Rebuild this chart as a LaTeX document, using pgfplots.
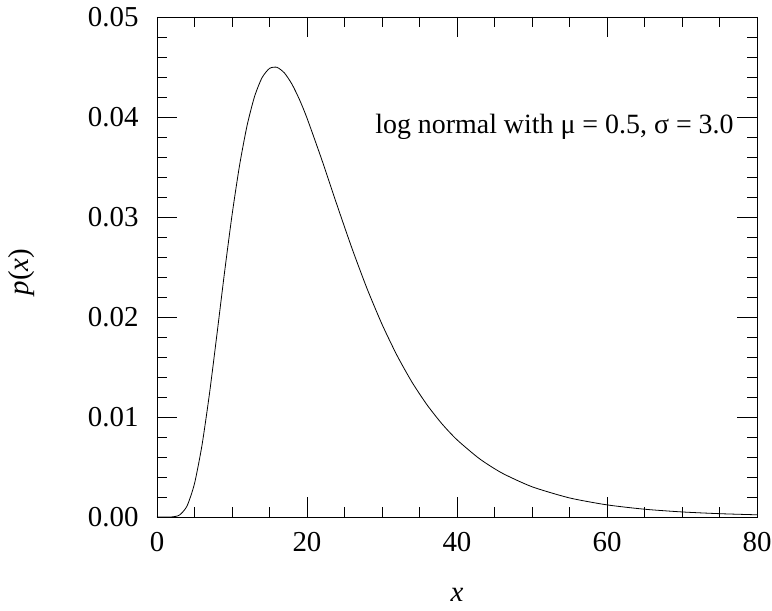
\documentclass[border=0pt]{standalone}
\usepackage{fontspec}
\setmainfont{Liberation Serif}
\usepackage{pgfplots}
\pgfplotsset{compat=1.18}

\begin{document}
\begin{tikzpicture}
\begin{axis}[
  name=ax,
  scale only axis=true,
  width=600bp, height=500bp,
  xmin=0, xmax=80, ymin=0, ymax=0.05,
  xtick={0,20,40,60,80},
  ytick={0,0.01,0.02,0.03,0.04,0.05},
  minor x tick num=3,
  minor y tick num=4,
  tick align=inside,
  major tick length=20bp,
  minor tick length=10bp,
  tick style={black, line width=0.8pt},
  axis line style={line width=0.8pt},
  tick label style={font=\fontsize{29}{33}\selectfont},
  xticklabel style={anchor=north, yshift=-12bp},
  yticklabel style={anchor=east, xshift=-15bp},
  /pgf/number format/assume math mode=true,
  yticklabel style={/pgf/number format/.cd, fixed, fixed zerofill, precision=2},
  scaled y ticks=false,
  xlabel={\textit{x}},
  ylabel={\textit{p}(\textit{x})},
  label style={font=\fontsize{29}{33}\selectfont},
  xlabel style={at={(axis description cs:0.5,-0.156)}, anchor=center},
  ylabel style={at={(axis description cs:-0.225,0.49)}, anchor=center},
]
\addplot[black, line width=0.8pt, smooth, tension=0.4] coordinates {
(0,0) (1,0) (2,0.0000095) (3,0.000193) (4,0.001091) (5,0.003337)
(6,0.007177) (7,0.012351) (8,0.018312) (9,0.024431) (10,0.030163)
(11,0.035130) (12,0.039110) (13,0.042031) (14,0.043923) (15,0.044858)
(16,0.044968) (17,0.044394) (18,0.043275) (19,0.041735) (20,0.039893)
(22,0.035672) (24,0.031201) (26,0.026860) (28,0.022852) (30,0.019276)
(32,0.016159) (34,0.013483) (36,0.011218) (38,0.009312) (40,0.007721)
(43,0.005824) (46,0.004394) (50,0.003024) (55,0.001907) (60,0.001212)
(65,0.000778) (70,0.000505) (75,0.000331) (80,0.000219)
};
\node[font=\fontsize{28}{32}\selectfont] at (axis cs:53.0,0.039) {log normal with μ = 0.5, σ = 3.0};
\end{axis}
\pgfresetboundingbox
\path[use as bounding box] ([xshift=-157bp,yshift=-94bp]ax.south west) rectangle ([xshift=15bp,yshift=17bp]ax.north east);
\end{tikzpicture}
\end{document}
